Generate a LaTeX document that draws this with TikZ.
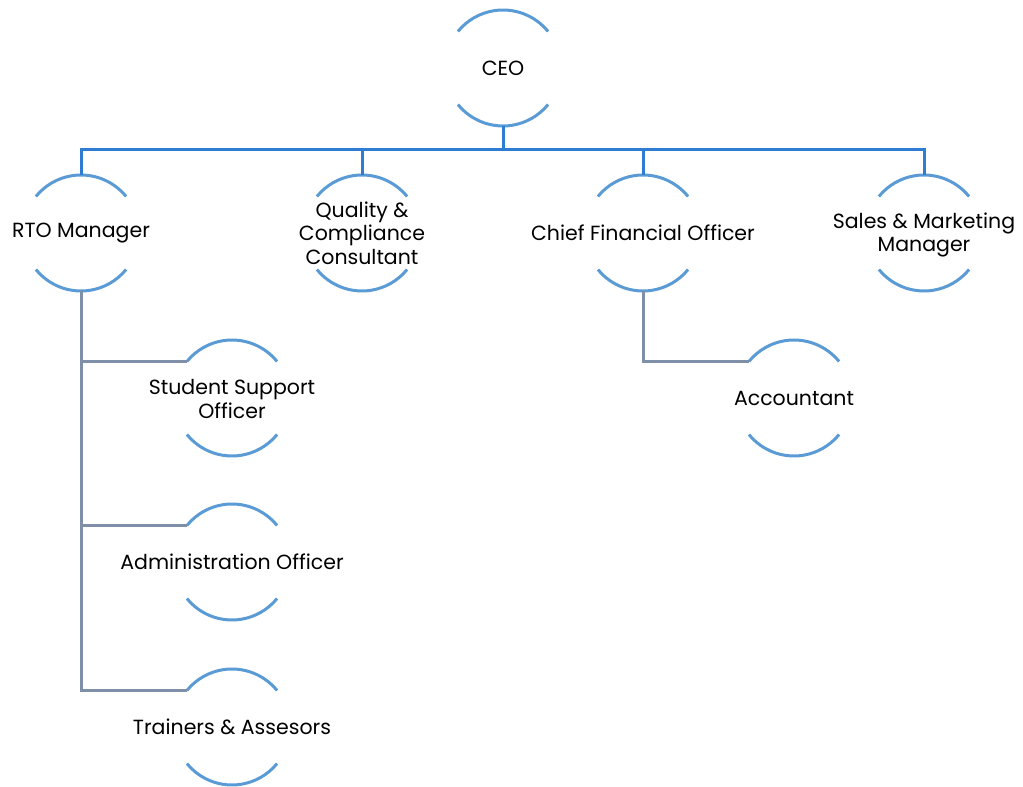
\documentclass[tikz,border=0pt]{standalone}
\usepackage{fontspec}
\setmainfont{Poppins}
\newlength\radius
\setlength\radius{58pt}
\definecolor{ringblue}{RGB}{91,155,213}
\definecolor{busblue}{RGB}{46,125,210}
\definecolor{subgray}{RGB}{128,143,168}
\tikzset{
  ring/.style={circle,minimum size=2\radius,inner sep=0pt,outer sep=0pt},
  role/.style={align=center,font=\fontsize{20.5}{23.5}\selectfont},
  arcline/.style={draw=ringblue,line width=3pt},
  busline/.style={draw=busblue,line width=3pt},
  subline/.style={draw=subgray,line width=3pt},
}
\begin{document}
\begin{tikzpicture}[x=1pt,y=1pt]
    \useasboundingbox (0,0) rectangle (1023,787);

    % rings
    \node[ring] (ceo)   at (503,719) {};
    \node[ring] (rto)   at (81,554)  {};
    \node[ring] (qual)  at (362,554) {};
    \node[ring] (cfo)   at (643,554) {};
    \node[ring] (sales) at (924,554) {};
    \node[ring] (stu)   at (232,389) {};
    \node[ring] (adm)   at (232,225) {};
    \node[ring] (trn)   at (232,60)  {};
    \node[ring] (acc)   at (794,389) {};

    \foreach \n in {ceo,rto,qual,cfo,sales,stu,adm,trn,acc} {
      \draw[arcline] (\n.39) arc[start angle=39,end angle=141,radius=\radius];
      \draw[arcline] (\n.219) arc[start angle=219,end angle=321,radius=\radius];
    }

    % texts
    \node[role] (ceo-t)   at (ceo)   {CEO};
    \node[role] (rto-t)   at (rto)   {RTO Manager};
    \node[role] (qual-t)  at (qual)  {Quality \&\\Compliance\\Consultant};
    \node[role] (cfo-t)   at (cfo)   {Chief Financial Officer};
    \node[role] (sales-t) at ([yshift=-2pt]sales) {Sales \& Marketing\\Manager};
    \node[role] (stu-t)   at ([yshift=-1pt]stu)   {Student Support\\Officer};
    \node[role] (adm-t)   at (adm)   {Administration Officer};
    \node[role] (trn-t)   at (trn)   {Trainers \& Assesors};
    \node[role] (acc-t)   at (acc)   {Accountant};

    % top lines
    \foreach \n in {rto,qual,cfo,sales} {
      \draw[busline] (ceo.south) -- ++(0,-24) -| (\n.north);
    }

    % bottom lines
    \foreach \n in {stu,adm,trn} {
      \draw[subline] (rto.south) |- (\n.141);
    }
    \draw[subline] (cfo.south) |- (acc.141);
  \end{tikzpicture}
\end{document}
